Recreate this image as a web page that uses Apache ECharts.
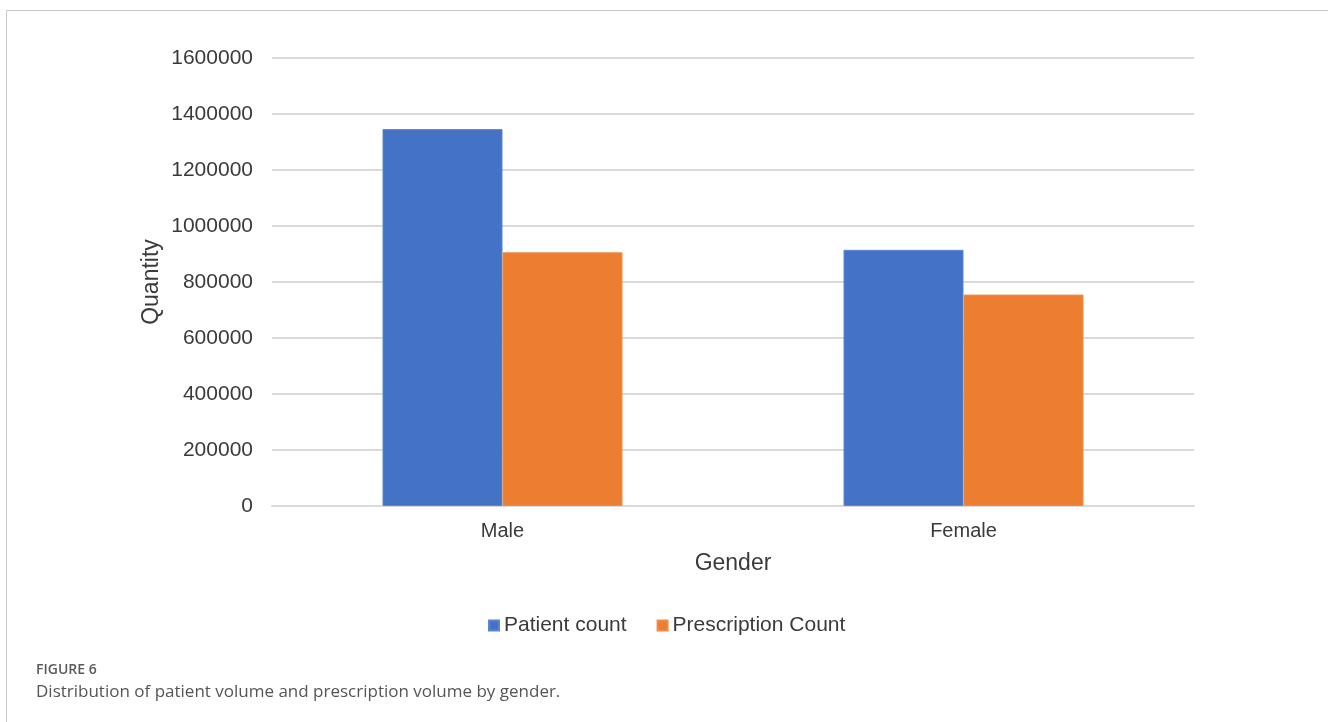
<!DOCTYPE html>
<html>
<head>
<meta charset="utf-8">
<title>Distribution of patient volume and prescription volume by gender</title>
<script src="https://cdn.jsdelivr.net/npm/echarts@6/dist/echarts.min.js"></script>
<style>
  html, body { margin: 0; padding: 0; background: #ffffff; }
  #chart { width: 1328px; height: 722px; }
</style>
</head>
<body>
<div id="chart"></div>
<script>
// Genders on the category axis
const categories = ['Male', 'Female'];
// Number of patients per gender
const patientCount = [1346000, 915000];
// Number of prescriptions per gender
const prescriptionCount = [906000, 755000];
// Value axis range and step
const yMin = 0;
const yMax = 1600000;
const yStep = 200000;

const seriesNames = ['Patient count', 'Prescription Count'];
const seriesColors = ['#4472C4', '#ED7D31'];
const textColor = '#3a3a3a';
const gridColor = '#d9d9d9';

const chart = echarts.init(document.getElementById('chart'), null, { renderer: 'canvas' });

chart.setOption({
  backgroundColor: '#ffffff',
  animation: false,
  textStyle: { fontFamily: '"Liberation Sans", Arial, sans-serif' },
  title: [
    {
      text: 'FIGURE 6',
      left: 31, top: 658,
      textStyle: { fontFamily: '"Open Sans", sans-serif', fontSize: 14, fontWeight: 600, color: '#5a5a5a' }
    },
    {
      text: 'Distribution of patient volume and prescription volume by gender.',
      left: 31, top: 679,
      textStyle: { fontFamily: '"Open Sans", sans-serif', fontSize: 17, fontWeight: 'normal', color: '#555555' }
    }
  ],
  graphic: [
    {
      // Frame line on the left and top edges
      type: 'polyline',
      silent: true,
      shape: { points: [[6.5, 722], [6.5, 10.5], [1328, 10.5]] },
      style: { stroke: '#c8c8c8', lineWidth: 1, fill: null }
    }
  ],
  legend: {
    left: 483, top: 610,
    itemWidth: 10, itemHeight: 10,
    itemGap: 30,
    icon: 'rect',
    data: seriesNames,
    textStyle: { fontSize: 21, color: textColor, fontFamily: '"Liberation Sans", Arial, sans-serif' }
  },
  grid: { left: 272, right: 134, top: 58, bottom: 216, containLabel: false },
  xAxis: {
    type: 'category',
    data: categories,
    name: 'Gender',
    nameLocation: 'middle',
    nameGap: 46,
    nameMoveOverlap: false,
    nameTextStyle: { fontSize: 23, color: textColor },
    axisLine: { show: true, lineStyle: { color: gridColor, width: 2 } },
    axisTick: { show: false },
    axisLabel: { fontSize: 20, color: textColor, margin: 15 }
  },
  yAxis: {
    type: 'value',
    min: yMin, max: yMax, interval: yStep,
    name: 'Quantity',
    nameLocation: 'middle',
    nameGap: 109,
    nameMoveOverlap: false,
    nameTextStyle: { fontSize: 23, color: textColor },
    axisLine: { show: false },
    axisTick: { show: false },
    axisLabel: { fontSize: 21, color: textColor, margin: 19, formatter: (v) => String(v) },
    splitLine: { show: true, lineStyle: { color: gridColor, width: 2 } }
  },
  series: [
    {
      name: seriesNames[0],
      type: 'bar',
      data: patientCount,
      barWidth: 120,
      barGap: '0%',
      itemStyle: { color: seriesColors[0], borderColor: '#5a86d0', borderWidth: 1 }
    },
    {
      name: seriesNames[1],
      type: 'bar',
      data: prescriptionCount,
      barWidth: 120,
      barGap: '0%',
      itemStyle: { color: seriesColors[1], borderColor: '#f08c48', borderWidth: 1 }
    }
  ]
});
</script>
</body>
</html>
